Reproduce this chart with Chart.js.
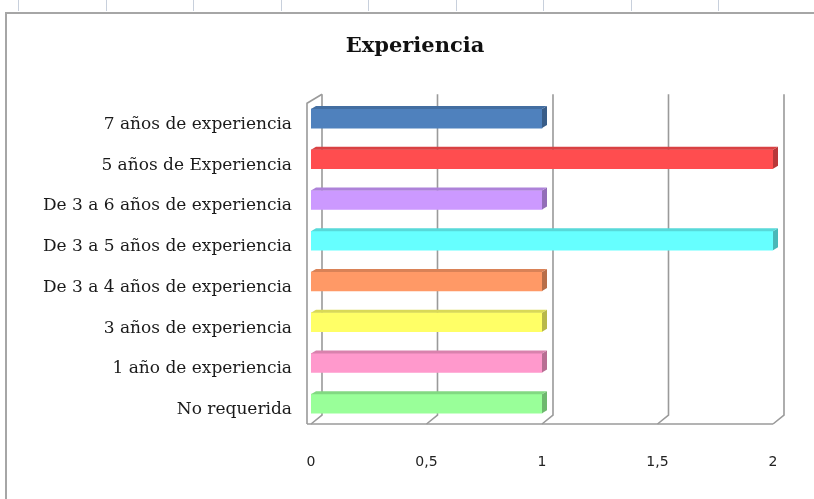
<!DOCTYPE html>
<html>
<head>
<meta charset="utf-8">
<script src="https://cdn.jsdelivr.net/npm/chart.js@4.4.1/dist/chart.umd.min.js"></script>
<style>
    html, body { margin: 0; padding: 0; background: #fff; }
    #wrap { position: relative; width: 814px; height: 499px; overflow: hidden; }
    #ruler { position: absolute; left: 0; top: 0; width: 814px; height: 11px;
        background: repeating-linear-gradient(90deg, transparent 0 18px, #c8d0dc 18px 19px, transparent 19px 87.5px); }
    #frame { position: absolute; left: 5px; top: 12px; right: -4px; bottom: -4px;
        border-left: 2px solid #a6a6a6; border-top: 2px solid #a6a6a6; }
    #chart { position: absolute; left: 0; top: 0; }
</style>
</head>
<body>
<div id="wrap">
    <div id="ruler"></div>
    <div id="frame"></div>
    <canvas id="chart" width="814" height="499"></canvas>
</div>
<script>
const chartTitle = 'Experiencia';
const categories = [
    '7 años de experiencia',
    '5 años de Experiencia',
    'De 3 a 6 años de experiencia',
    'De 3 a 5 años de experiencia',
    'De 3 a 4 años de experiencia',
    '3 años de experiencia',
    '1 año de experiencia',
    'No requerida'
];
const values = [1, 2, 1, 2, 1, 1, 1, 1];
const barColors = ['#4f81bd', '#ff4d4f', '#cc99ff', '#66ffff', '#ff9966', '#ffff66', '#ff99cc', '#99ff99'];
const xTicks = [0, 0.5, 1, 1.5, 2];

function shade(hex, f) {
    const n = parseInt(hex.slice(1), 16);
    const r = Math.round(((n >> 16) & 255) * f);
    const g = Math.round(((n >> 8) & 255) * f);
    const b = Math.round((n & 255) * f);
    return `rgb(${r},${g},${b})`;
}

const DX = 11, DY = 9;

// back wall gridlines + floor edge, excel 3d style
const wallPlugin = {
    id: 'wall',
    beforeDatasetsDraw(chart) {
        const { ctx, chartArea, scales } = chart;
        const top = chartArea.top - 4;
        const bottom = chartArea.bottom;
        ctx.save();
        ctx.strokeStyle = '#9a9a9a';
        ctx.lineWidth = 1.6;
        xTicks.forEach(v => {
            const x = scales.x.getPixelForValue(v);
            ctx.beginPath();
            ctx.moveTo(x + DX, top);
            ctx.lineTo(x + DX, bottom - DY);
            ctx.lineTo(x, bottom);
            ctx.stroke();
        });
        const x0 = scales.x.getPixelForValue(0);
        const x2 = scales.x.getPixelForValue(xTicks[xTicks.length - 1]);
        // floor front edge
        ctx.beginPath();
        ctx.moveTo(x0 - 4, bottom);
        ctx.lineTo(x2, bottom);
        ctx.stroke();
        // left wall front edge
        ctx.beginPath();
        ctx.moveTo(x0 - 4, bottom);
        ctx.lineTo(x0 - 4, top + DY);
        ctx.lineTo(x0 + DX, top);
        ctx.stroke();
        ctx.restore();
    },
    afterDatasetsDraw(chart) {
        const { ctx } = chart;
        const meta = chart.getDatasetMeta(0);
        ctx.save();
        meta.data.forEach((bar, i) => {
            const h = bar.height;
            const t = bar.y - h / 2, b = bar.y + h / 2;
            const c = barColors[i];
            ctx.fillStyle = shade(c, 0.72);
            ctx.beginPath();
            ctx.moveTo(bar.x, t);
            ctx.lineTo(bar.x + 5, t - 3);
            ctx.lineTo(bar.x + 5, b - 3);
            ctx.lineTo(bar.x, b);
            ctx.closePath();
            ctx.fill();
            ctx.fillStyle = shade(c, 0.85);
            ctx.beginPath();
            ctx.moveTo(bar.base, t);
            ctx.lineTo(bar.base + 5, t - 3);
            ctx.lineTo(bar.x + 5, t - 3);
            ctx.lineTo(bar.x, t);
            ctx.closePath();
            ctx.fill();
        });
        ctx.restore();
    }
};

new Chart(document.getElementById('chart'), {
    type: 'bar',
    data: {
        labels: categories,
        datasets: [{
            data: values,
            backgroundColor: barColors,
            borderWidth: 0,
            barThickness: 19
        }]
    },
    options: {
        indexAxis: 'y',
        responsive: false,
        animation: false,
        layout: { padding: { left: 16, right: 0, top: 0, bottom: 0 } },
        scales: {
            x: {
                min: 0,
                max: 2,
                afterFit: s => { s.height = 75; },
                afterBuildTicks: s => { s.ticks = xTicks.map(v => ({ value: v })); },
                grid: { display: false, drawTicks: false },
                border: { display: false },
                ticks: {
                    padding: 30,
                    color: '#222',
                    font: { family: 'DejaVu Sans', size: 14 },
                    callback: v => String(v).replace('.', ',')
                }
            },
            y: {
                afterFit: s => { s.width = 295; },
                grid: { display: false, drawTicks: false },
                border: { display: false },
                ticks: {
                    padding: 19,
                    labelOffset: 6,
                    color: '#1a1a1a',
                    font: { family: 'DejaVu Serif', size: 17 }
                }
            },
            yRight: {
                position: 'right',
                afterFit: s => { s.width = 41; },
                grid: { display: false, drawTicks: false },
                border: { display: false },
                ticks: { display: false }
            }
        },
        plugins: {
            legend: { display: false },
            tooltip: { enabled: false },
            title: {
                display: true,
                text: chartTitle,
                color: '#111',
                font: { family: 'DejaVu Serif', size: 21, weight: 'bold' },
                padding: { top: 34, bottom: 39 }
            }
        }
    },
    plugins: [wallPlugin]
});
</script>
</body>
</html>
